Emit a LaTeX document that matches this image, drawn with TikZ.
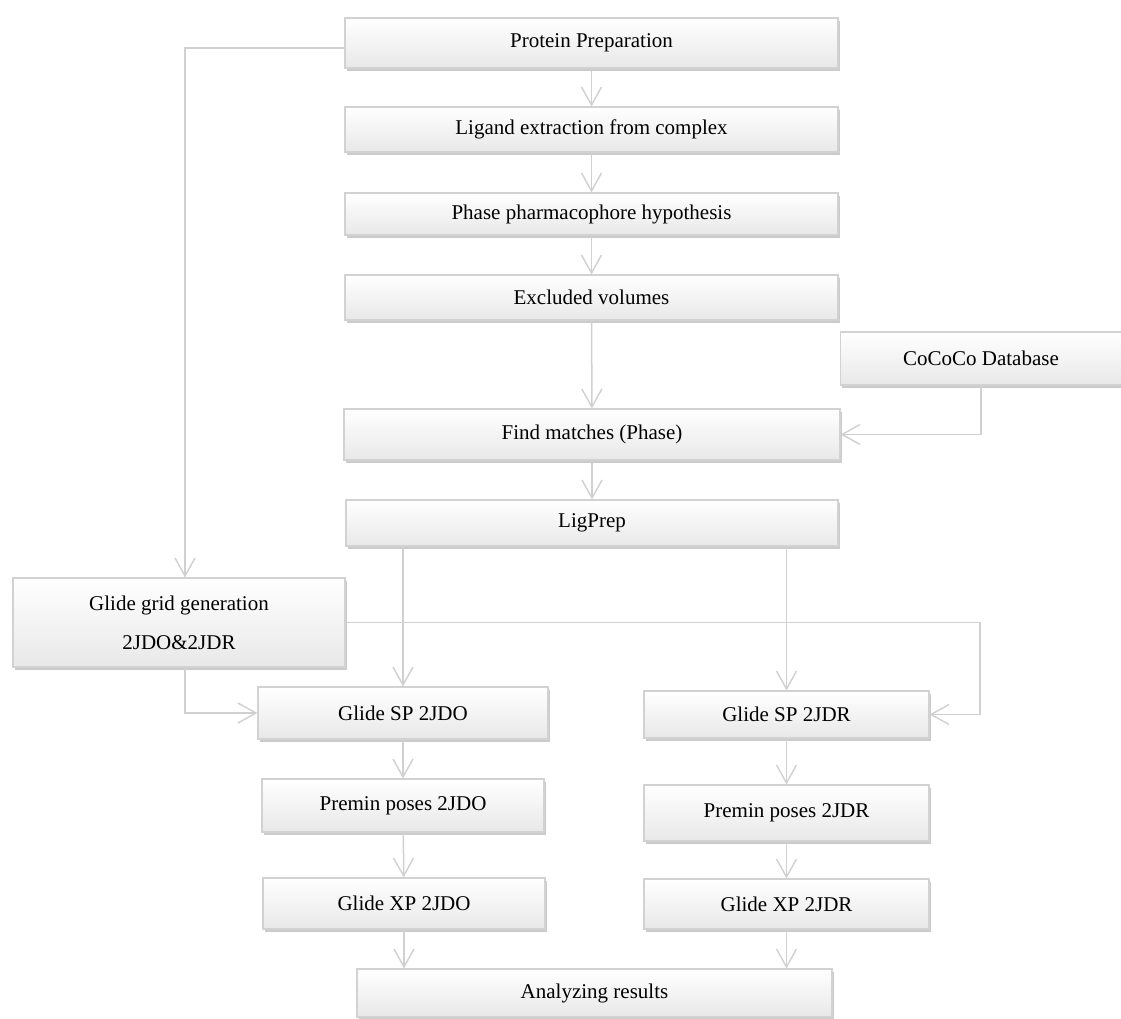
\documentclass[tikz,border=0pt]{standalone}
\usepackage{fontspec}
\setmainfont{Liberation Serif}
\usetikzlibrary{arrows.meta,shadows}
\definecolor{boxline}{HTML}{D2D2D2}
\definecolor{linkgray}{HTML}{D0D0D0}
\begin{document}
\begin{tikzpicture}[x=1pt, y=-1pt,
    component/.style={rectangle, draw=boxline, line width=1.2pt, top color=white, bottom color=black!9,
        drop shadow={shadow xshift=1.5pt, shadow yshift=-2.5pt, fill=black!45, opacity=0.45},
        align=center, inner sep=2pt, font=\fontsize{21}{25}\selectfont},
    arrow/.style={-{Straight Barb[length=18pt, width=20pt, line width=1.4pt]}, draw=linkgray, line width=1.5pt}
]
\useasboundingbox (0,0) rectangle (1121,1018);

% Pharmacophore part
\node[component, minimum width=493pt, minimum height=50pt] (prot) at (591.5,43) {Protein Preparation};
\node[component, minimum width=493pt, minimum height=45pt] (lig) at (591.5,129.5) {Ligand extraction from complex};
\node[component, minimum width=493pt, minimum height=42pt] (phase) at (591.5,214) {Phase pharmacophore hypothesis};
\node[component, minimum width=493pt, minimum height=45pt] (excl) at (591.5,297.5) {Excluded volumes};
\node[component, minimum width=281pt, minimum height=53pt] (coco) at (981,358.5) {CoCoCo Database};
\node[component, minimum width=496pt, minimum height=51pt] (find) at (592,434.5) {Find matches (Phase)};
\node[component, minimum width=492pt, minimum height=46pt] (ligprep) at (592,523) {LigPrep};

% Grid
\node[component, minimum width=332pt, minimum height=89pt] (grid) at (179,622.5) {Glide grid generation\\[14pt]2JDO\&2JDR};

% Docking 2JDO
\node[component, minimum width=290pt, minimum height=52pt] (sp1) at (403,713) {Glide SP 2JDO};
\node[component, minimum width=282pt, minimum height=53pt] (pm1) at (403,805.5) {Premin poses 2JDO};
\node[component, minimum width=282pt, minimum height=51pt] (xp1) at (404,903.5) {Glide XP 2JDO};

% Docking 2JDR
\node[component, minimum width=285pt, minimum height=47pt] (sp2) at (786.5,714.5) {Glide SP 2JDR};
\node[component, minimum width=285pt, minimum height=56pt] (pm2) at (786.5,813) {Premin poses 2JDR};
\node[component, minimum width=285pt, minimum height=50pt] (xp2) at (786.5,904) {Glide XP 2JDR};

\node[component, minimum width=475pt, minimum height=48pt] (ana) at (594.5,993) {Analyzing results};

\coordinate (gridturn) at (980,622.5);

% Arrows
\draw[arrow] (prot) -- (lig);
\draw[arrow] (lig) -- (phase);
\draw[arrow] (phase) -- (excl);
\draw[arrow] (excl) -- (find);
\draw[arrow] (coco.south) |- (find.east);
\draw[arrow] (find) -- (ligprep);
\draw[arrow] ([yshift=-5pt]prot.west) -| ([xshift=6pt]grid.north);
\draw[arrow] ([xshift=6pt]grid.south) |- (sp1.west);
\draw[arrow] (grid.east) -- (gridturn) |- (sp2.east);
\draw[arrow] (ligprep.south -| sp1.north) -- (sp1.north);
\draw[arrow] (ligprep.south -| sp2.north) -- (sp2.north);
\draw[arrow] (sp1) -- (pm1);
\draw[arrow] (pm1) -- (xp1);
\draw[arrow] (sp2) -- (pm2);
\draw[arrow] (pm2) -- (xp2);
\draw[arrow] (xp1.south) -- (xp1.south |- ana.north);
\draw[arrow] (xp2.south) -- (xp2.south |- ana.north);

\end{tikzpicture}
\end{document}
